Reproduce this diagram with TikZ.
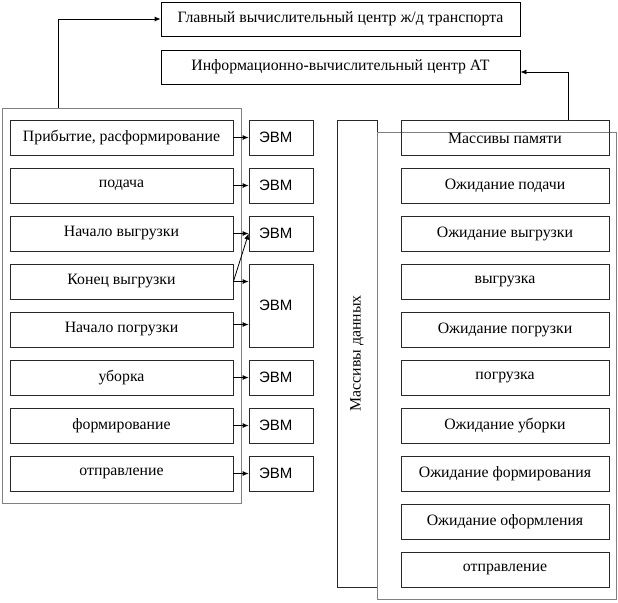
\documentclass[tikz,border=0pt]{standalone}
\usepackage{fontspec}
\setmainfont{Liberation Serif}
\newfontfamily\evmfont{Liberation Sans}
\usetikzlibrary{arrows.meta, positioning}
\definecolor{framegray}{RGB}{128,128,128}
\definecolor{boxline}{RGB}{40,40,40}

\begin{document}
\begin{tikzpicture}[
  x=1pt, y=-1pt,
  every node/.style={font=\fontsize{15.8}{18}\selectfont},
  box/.style={rectangle, draw=boxline, line width=0.8pt, inner sep=0pt, align=center},
  lbox/.style={box, minimum width=223pt, minimum height=35pt},
  rbox/.style={box, minimum width=208pt, minimum height=35pt},
  topbox/.style={box, draw=black, minimum width=359pt, minimum height=34pt},
  evm/.style={box, minimum width=64pt, minimum height=35pt, font=\evmfont\fontsize{15}{17}\selectfont,
              text width=44pt, align=left},
  frame/.style={rectangle, draw=framegray, line width=0.9pt, inner sep=0pt},
  arr/.style={-{Latex[length=6pt,width=5pt]}, line width=0.8pt, draw=black}
]
\useasboundingbox (0,0) rectangle (618,602);

% top: computing centres
\node[topbox] (gvc) at (340.5, 19) {Главный вычислительный центр ж/д транспорта};
\node[topbox] (ivc) at (340.5, 67) {Информационно-вычислительный центр АТ};

% left frame: operations
\node[frame, minimum width=239pt, minimum height=395pt] (opframe) at (121.5, 305.5) {};
\node[lbox] (arriv) at (121.5, 137.5) {Прибытие, расформирование};
\node[lbox] (podacha) at (121.5, 185.5) {подача};
\node[lbox] (nvyg) at (121.5, 233.5) {Начало выгрузки};
\node[lbox] (kvyg) at (121.5, 281.5) {Конец выгрузки};
\node[lbox] (npog) at (121.5, 329.5) {Начало погрузки};
\node[lbox] (uborka) at (121.5, 377.5) {уборка};
\node[lbox] (formir) at (121.5, 425.5) {формирование};
\node[lbox] (otpr) at (121.5, 473.5) {отправление};

% computers
\node[evm] (evmA) at (281, 137.5) {ЭВМ};
\node[evm] (evmB) at (281, 185.5) {ЭВМ};
\node[evm] (evmC) at (281, 233.5) {ЭВМ};
\node[evm, minimum height=83pt] (evmD) at (281, 305.5) {ЭВМ};
\node[evm] (evmE) at (281, 377.5) {ЭВМ};
\node[evm] (evmF) at (281, 425.5) {ЭВМ};
\node[evm] (evmG) at (281, 473.5) {ЭВМ};

% data arrays
\node[box, rotate=90, minimum width=467pt, minimum height=40pt] (mdata) at (357, 353.5) {Массивы данных};
\node[frame, minimum width=239pt, minimum height=467pt] (memframe) at (496.5, 365.5) {};
\node[rbox] (mpam) at (505, 138) {Массивы памяти};
\node[rbox] (ozpod) at (505, 185.5) {Ожидание подачи};
\node[rbox] (ozvyg) at (505, 233.5) {Ожидание выгрузки};
\node[rbox] (vygr) at (505, 281.5) {выгрузка};
\node[rbox] (ozpog) at (505, 329.5) {Ожидание погрузки};
\node[rbox] (pogr) at (505, 377.5) {погрузка};
\node[rbox] (ozub) at (505, 425.5) {Ожидание уборки};
\node[rbox] (ozform) at (505, 473.5) {Ожидание формирования};
\node[rbox] (ozoform) at (505, 521.5) {Ожидание оформления};
\node[rbox] (otprR) at (505, 569.5) {отправление};

% operations -> computers
\draw[arr] (arriv) -- (evmA);
\draw[arr] (podacha) -- (evmB);
\draw[arr] (nvyg) -- (evmC);
\draw[arr] (kvyg.east) -- (evmC.west);
\draw[arr] (kvyg.east) -- (kvyg.east -| evmD.west);
\draw[arr] ([yshift=5pt]npog.east) -- ([yshift=5pt]npog.east -| evmD.west);
\draw[arr] (uborka) -- (evmE);
\draw[arr] (formir) -- (evmF);
\draw[arr] (otpr) -- (evmG);

% up to the centres
\draw[arr] ([xshift=-63.5pt]opframe.north) |- (gvc.west);
\draw[arr] ([xshift=63pt]mpam.north) |- ([yshift=-5pt]ivc.east);
\end{tikzpicture}
\end{document}
